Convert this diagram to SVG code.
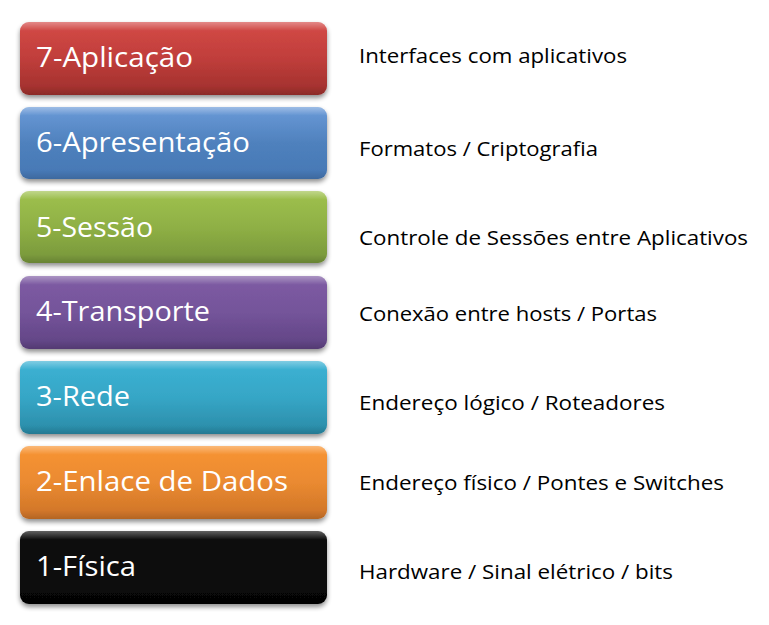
<svg xmlns="http://www.w3.org/2000/svg" width="769" height="625" viewBox="0 0 769 625">
<defs>
<filter id="sh" x="-10%" y="-20%" width="120%" height="150%">
<feGaussianBlur in="SourceAlpha" stdDeviation="2.5"/>
<feOffset dx="0" dy="3" result="b"/>
<feComponentTransfer><feFuncA type="linear" slope="0.45"/></feComponentTransfer>
<feMerge><feMergeNode/><feMergeNode in="SourceGraphic"/></feMerge>
</filter>
<linearGradient id="gR" x1="0" y1="0" x2="0" y2="1"><stop offset="0" stop-color="#d44a47"/><stop offset="0.5" stop-color="#c03e3b"/><stop offset="1" stop-color="#9e2f2c"/></linearGradient>
<linearGradient id="gB" x1="0" y1="0" x2="0" y2="1"><stop offset="0" stop-color="#6a9ad8"/><stop offset="0.5" stop-color="#4f81bd"/><stop offset="1" stop-color="#4577b4"/></linearGradient>
<linearGradient id="gG" x1="0" y1="0" x2="0" y2="1"><stop offset="0" stop-color="#9fc14e"/><stop offset="0.5" stop-color="#8fb045"/><stop offset="1" stop-color="#76953a"/></linearGradient>
<linearGradient id="gP" x1="0" y1="0" x2="0" y2="1"><stop offset="0" stop-color="#7f5ca4"/><stop offset="0.5" stop-color="#74549a"/><stop offset="1" stop-color="#5f4282"/></linearGradient>
<linearGradient id="gC" x1="0" y1="0" x2="0" y2="1"><stop offset="0" stop-color="#3cb2d4"/><stop offset="0.5" stop-color="#36a6c6"/><stop offset="1" stop-color="#2a8aa6"/></linearGradient>
<linearGradient id="gO" x1="0" y1="0" x2="0" y2="1"><stop offset="0" stop-color="#f89431"/><stop offset="0.5" stop-color="#ea8a30"/><stop offset="1" stop-color="#cc7228"/></linearGradient>
<linearGradient id="gK" x1="0" y1="0" x2="0" y2="1"><stop offset="0" stop-color="#111"/><stop offset="1" stop-color="#050505"/></linearGradient>
<linearGradient id="hl" x1="0" y1="0" x2="0" y2="1"><stop offset="0" stop-color="#fff" stop-opacity="0.35"/><stop offset="0.12" stop-color="#fff" stop-opacity="0"/><stop offset="0.88" stop-color="#000" stop-opacity="0"/><stop offset="1" stop-color="#000" stop-opacity="0.12"/></linearGradient>
</defs>
<style>
.box{filter:url(#sh)}
.lab{font-family:"Open Sans","Liberation Sans",sans-serif;font-size:28px;fill:#fff}
.desc{font-family:"Open Sans","Liberation Sans",sans-serif;font-size:20px;fill:#000}
</style>
<rect width="769" height="625" fill="#fff"/>
<g id="layer7"><rect class="box" x="20" y="22" width="307" height="73" rx="9" fill="url(#gR)"/><rect x="20" y="22" width="307" height="73" rx="9" fill="url(#hl)"/><text class="lab" x="36" y="67" textLength="157" lengthAdjust="spacingAndGlyphs">7-Aplicação</text></g>
<g id="layer6"><rect class="box" x="20" y="107" width="307" height="72" rx="9" fill="url(#gB)"/><rect x="20" y="107" width="307" height="72" rx="9" fill="url(#hl)"/><text class="lab" x="36" y="152" textLength="214" lengthAdjust="spacingAndGlyphs">6-Apresentação</text></g>
<g id="layer5"><rect class="box" x="20" y="191" width="307" height="72" rx="9" fill="url(#gG)"/><rect x="20" y="191" width="307" height="72" rx="9" fill="url(#hl)"/><text class="lab" x="36" y="237" textLength="117" lengthAdjust="spacingAndGlyphs">5-Sessão</text></g>
<g id="layer4"><rect class="box" x="20" y="276" width="307" height="73" rx="9" fill="url(#gP)"/><rect x="20" y="276" width="307" height="73" rx="9" fill="url(#hl)"/><text class="lab" x="36" y="321" textLength="174" lengthAdjust="spacingAndGlyphs">4-Transporte</text></g>
<g id="layer3"><rect class="box" x="20" y="361" width="307" height="73" rx="9" fill="url(#gC)"/><rect x="20" y="361" width="307" height="73" rx="9" fill="url(#hl)"/><text class="lab" x="36" y="406" textLength="94" lengthAdjust="spacingAndGlyphs">3-Rede</text></g>
<g id="layer2"><rect class="box" x="20" y="446" width="307" height="73" rx="9" fill="url(#gO)"/><rect x="20" y="446" width="307" height="73" rx="9" fill="url(#hl)"/><text class="lab" x="36" y="491" textLength="252" lengthAdjust="spacingAndGlyphs">2-Enlace de Dados</text></g>
<g id="layer1"><rect class="box" x="20" y="531" width="307" height="73" rx="9" fill="url(#gK)"/><rect x="20" y="531" width="307" height="73" rx="9" fill="url(#hl)"/><text class="lab" x="36" y="576" textLength="100" lengthAdjust="spacingAndGlyphs">1-Física</text></g>
<g id="descriptions">
<text class="desc" x="359" y="63" textLength="268" lengthAdjust="spacingAndGlyphs">Interfaces com aplicativos</text>
<text class="desc" x="359" y="156" textLength="239" lengthAdjust="spacingAndGlyphs">Formatos / Criptografia</text>
<text class="desc" x="359" y="245" textLength="389" lengthAdjust="spacingAndGlyphs">Controle de Sessões entre Aplicativos</text>
<text class="desc" x="359" y="321" textLength="298" lengthAdjust="spacingAndGlyphs">Conexão entre hosts / Portas</text>
<text class="desc" x="359" y="410" textLength="306" lengthAdjust="spacingAndGlyphs">Endereço lógico / Roteadores</text>
<text class="desc" x="359" y="490" textLength="365" lengthAdjust="spacingAndGlyphs">Endereço físico / Pontes e Switches</text>
<text class="desc" x="359" y="579" textLength="314" lengthAdjust="spacingAndGlyphs">Hardware / Sinal elétrico / bits</text>
</g>
</svg>
